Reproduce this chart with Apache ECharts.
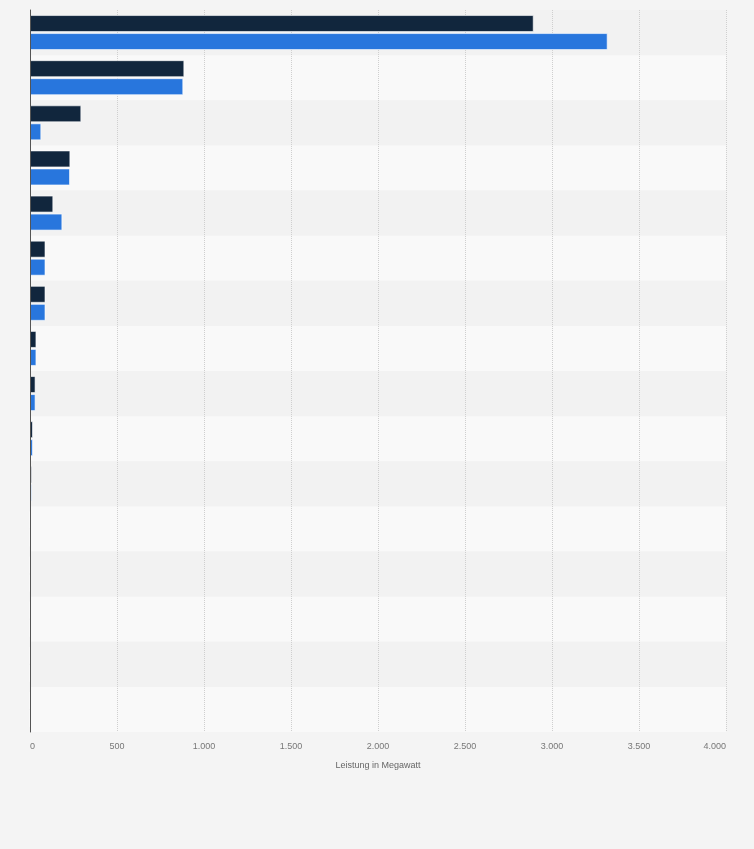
<!DOCTYPE html>
<html>
  <head>
    <meta charset="utf-8" />
    <title>Leistung in Megawatt</title>
    <script src="https://cdnjs.cloudflare.com/ajax/libs/echarts/6.0.0/echarts.min.js"></script>
    <style>
      html,
      body {
        width: 100%;
        height: 100%;
        margin: 0;
        padding: 0;
        background-color: #f4f4f4;
      }
      #main {
        width: 754px;
        height: 849px;
      }
    </style>
  </head>
  <body>
    <div id="main"></div>
    <script type="text/javascript">
      // category labels are not shown in the picture, so rows are numbered
      var categories = ['1', '2', '3', '4', '5', '6', '7', '8', '9', '10', '11', '12', '13', '14', '15', '16'];
      var seriesA = [2895, 887, 295, 232, 134, 89, 89, 37, 32, 17, 11, 0, 0, 0, 0, 0];
      var seriesB = [3320, 881, 65, 230, 186, 89, 89, 37, 32, 17, 10, 0, 0, 0, 0, 0];
      var xTicks = { min: 0, max: 4000, interval: 500 };

      var chartDom = document.getElementById('main');
      var myChart = echarts.init(chartDom);

      function fmt(v) {
        // German thousands separator
        return String(v).replace(/\B(?=(\d{3})+(?!\d))/g, '.');
      }

      var barStyle = {
        borderColor: 'rgba(255,255,255,0.6)',
        borderWidth: 1
      };

      var option = {
        backgroundColor: '#f4f4f4',
        animation: false,
        grid: {
          left: 30,
          right: 28,
          top: 10,
          bottom: 117,
          containLabel: false
        },
        xAxis: {
          type: 'value',
          min: xTicks.min,
          max: xTicks.max,
          interval: xTicks.interval,
          name: 'Leistung in Megawatt',
          nameLocation: 'middle',
          nameGap: 29,
          nameTextStyle: { color: '#666', fontSize: 9, fontFamily: 'Liberation Sans' },
          axisLine: { show: false },
          axisTick: { show: false },
          axisLabel: {
            color: '#777',
            fontSize: 9,
            fontFamily: 'Liberation Sans',
            margin: 10,
            alignMinLabel: 'left',
            alignMaxLabel: 'right',
            formatter: fmt
          },
          splitLine: {
            show: true,
            lineStyle: { color: '#cfcfcf', type: [1, 1], width: 1 }
          }
        },
        yAxis: [
          {
            // stripes
            type: 'category',
            data: categories,
            inverse: true,
            axisLine: { show: false },
            axisTick: { show: false },
            axisLabel: { show: false },
            splitLine: { show: false },
            splitArea: {
              show: true,
              areaStyle: { color: ['#f2f2f2', '#f9f9f9'] }
            }
          },
          {
            // axis line drawn above the bars
            type: 'category',
            data: categories,
            inverse: true,
            position: 'left',
            z: 5,
            axisLine: { show: true, lineStyle: { color: '#555', width: 1 } },
            axisTick: { show: false },
            axisLabel: { show: false },
            splitLine: { show: false },
            splitArea: { show: false }
          }
        ],
        series: [
          {
            name: 'A',
            type: 'bar',
            data: seriesA,
            barWidth: 17,
            barGap: '6%',
            itemStyle: Object.assign({ color: '#11263d' }, barStyle)
          },
          {
            name: 'B',
            type: 'bar',
            data: seriesB,
            barWidth: 17,
            barGap: '6%',
            itemStyle: Object.assign({ color: '#2876dd' }, barStyle)
          }
        ]
      };

      option && myChart.setOption(option);
    </script>
  </body>
</html>
